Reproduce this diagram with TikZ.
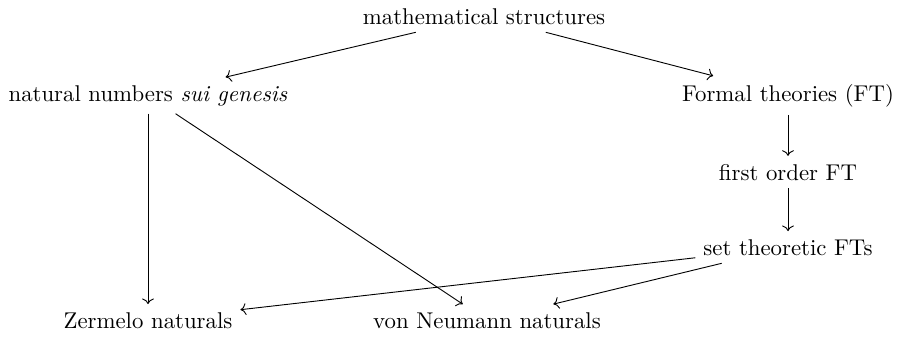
\documentclass[tikz,border=0pt]{standalone}
\usetikzlibrary{arrows.meta}

\begin{document}
\begin{tikzpicture}[
    x=0.4386pt,
    y=-0.4386pt,
    item/.style={
        anchor=base
    },
    arr/.style={
        ->
    }
]
\useasboundingbox (0,0) rectangle (900,336);

% Nodes
\node[item] (structs) at (484,24) {mathematical structures};
\node[item] (natural) at (148,101) {natural numbers \emph{sui genesis}};
\node[item] (formal) at (788,101) {Formal theories (FT)};
\node[item] (firstorder) at (788,180) {first order FT};
\node[item] (settheor) at (788,255) {set theoretic FTs};
\node[item] (zermelo) at (148,328) {Zermelo naturals};
\node[item] (neumann) at (487,328) {von Neumann naturals};

% Arrows
\draw[arr] (structs) -- (natural);
\draw[arr] (structs) -- (formal);
\draw[arr] (natural) -- (zermelo);
\draw[arr] (natural) -- (neumann);
\draw[arr] (formal) -- (firstorder);
\draw[arr] (firstorder) -- (settheor);
\draw[arr] (settheor) -- (zermelo);
\draw[arr] (settheor) -- (neumann);

\end{tikzpicture}
\end{document}
